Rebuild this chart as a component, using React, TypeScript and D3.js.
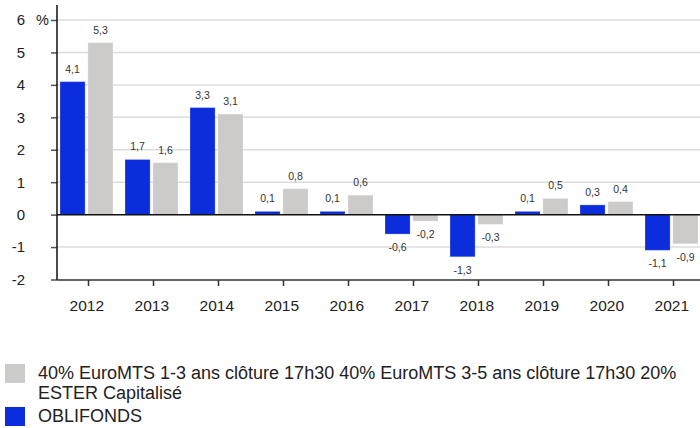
import React from 'react'
import { useRef, useEffect } from "react";
import * as d3 from 'd3';

// data
const years = ['2012', '2013', '2014', '2015', '2016', '2017', '2018', '2019', '2020', '2021'];
const fund = [4.1, 1.7, 3.3, 0.1, 0.1, -0.6, -1.3, 0.1, 0.3, -1.1];
const bench = [5.3, 1.6, 3.1, 0.8, 0.6, -0.2, -0.3, 0.5, 0.4, -0.9];
const yTicks = [-2, -1, 0, 1, 2, 3, 4, 5, 6];
const seriesNames = ['OBLIFONDS', '40% EuroMTS 1-3 ans clôture 17h30 40% EuroMTS 3-5 ans clôture 17h30 20% ESTER Capitalisé'];

const BLUE = '#0b2ddc';
const GREY = '#cdcaca';
const FONT = '"Liberation Sans", Arial, sans-serif';

export default function App() {
  const svgRef = useRef(null);

  useEffect(() => {
    const w = 700;
    const h = 428;
    const svg = d3.select(svgRef.current);
    svg.selectAll('*').remove();
    svg.attr('width', w).attr('height', h);

    const left = 57;
    const bottom = 280;

    // scales
    const y = d3.scaleLinear().domain([-2, 6]).range([279.5, 20]);
    const x0 = d3.scaleBand().domain(years).range([56, 706]);
    const x1 = d3.scaleBand().domain(['fund', 'bench']).range([4, 57]).paddingInner(0.1);

    // gridlines
    svg.append('g').selectAll('line').data(yTicks.filter(t => t !== 0 && t !== -2)).enter()
      .append('line')
      .attr('x1', left).attr('x2', w)
      .attr('y1', d => y(d)).attr('y2', d => y(d))
      .attr('stroke', '#dcdcdc').attr('stroke-width', 1.5);

    // bars
    const rows = years.map((yr, i) => ({ yr, fund: fund[i], bench: bench[i] }));
    const groups = svg.append('g').selectAll('g').data(rows).enter()
      .append('g').attr('transform', d => `translate(${x0(d.yr)},0)`);

    const keys = [['fund', BLUE], ['bench', GREY]];
    keys.forEach(([k, col]) => {
      groups.append('rect')
        .attr('x', x1(k))
        .attr('width', x1.bandwidth())
        .attr('y', d => y(Math.max(0, d[k])))
        .attr('height', d => Math.abs(y(d[k]) - y(0)))
        .attr('fill', col)
        .attr('stroke', '#ffffff').attr('stroke-opacity', 0.25).attr('stroke-width', 1);

      groups.append('text')
        .attr('x', x1(k) + x1.bandwidth() / 2)
        .attr('y', d => d[k] >= 0 ? y(d[k]) - 9 : y(d[k]) + 17)
        .attr('text-anchor', 'middle')
        .style('font-family', FONT).style('font-size', '10.5px').style('fill', '#333')
        .text(d => d3.format('.1f')(d[k]).replace('.', ',').replace('−', '-'));
    });

    // zero line
    svg.append('line').attr('x1', left).attr('x2', w)
      .attr('y1', y(0)).attr('y2', y(0)).attr('stroke', '#111').attr('stroke-width', 1.5);

    // y axis
    const yAxis = d3.axisLeft(y).tickValues(yTicks).tickSize(6).tickFormat(d => d);
    const ga = svg.append('g').attr('transform', `translate(${left},0)`).call(yAxis);
    ga.select('.domain').remove();
    ga.selectAll('line').attr('stroke', '#555').attr('stroke-width', 1.5);
    ga.selectAll('text').attr('x', -32).style('font-family', FONT).style('font-size', '15px').style('fill', '#222');
    svg.append('line').attr('x1', left).attr('x2', left).attr('y1', 5).attr('y2', bottom)
      .attr('stroke', '#111').attr('stroke-width', 1.5);
    svg.append('text').attr('x', 36).attr('y', y(6) + 5)
      .style('font-family', FONT).style('font-size', '14.5px').style('fill', '#222').text('%');

    // x axis
    const xAxis = d3.axisBottom(x0).tickSize(6).tickPadding(14);
    const gx = svg.append('g').attr('transform', `translate(0,${bottom})`).call(xAxis);
    gx.select('.domain').remove();
    gx.selectAll('line').attr('stroke', '#333').attr('stroke-width', 1.5);
    gx.selectAll('text').attr('dx', -1.7).style('font-family', FONT).style('font-size', '15.5px').style('fill', '#222');
    svg.append('line').attr('x1', left).attr('x2', w).attr('y1', bottom).attr('y2', bottom)
      .attr('stroke', '#333').attr('stroke-width', 1.5);

    // legend
    const leg = svg.append('g');
    const legFont = '18px';
    leg.append('rect').attr('x', 5).attr('y', 364).attr('width', 20).attr('height', 19).attr('fill', GREY);
    const words = seriesNames[1];
    const cut = words.indexOf('ESTER');
    leg.append('text').attr('x', 38).attr('y', 379)
      .style('font-family', FONT).style('font-size', legFont).style('fill', '#222')
      .text(words.slice(0, cut).trim());
    leg.append('text').attr('x', 38).attr('y', 399)
      .style('font-family', FONT).style('font-size', legFont).style('fill', '#222')
      .text(words.slice(cut));
    leg.append('rect').attr('x', 5).attr('y', 407).attr('width', 20).attr('height', 19).attr('fill', BLUE);
    leg.append('text').attr('x', 38).attr('y', 422)
      .style('font-family', FONT).style('font-size', legFont).style('fill', '#222')
      .text(seriesNames[0]);
  }, []);

  return (
    <div style={{ position: 'absolute', left: 0, top: 0 }}>
      <svg ref={svgRef} style={{ display: 'block' }}></svg>
    </div>
  );
}
